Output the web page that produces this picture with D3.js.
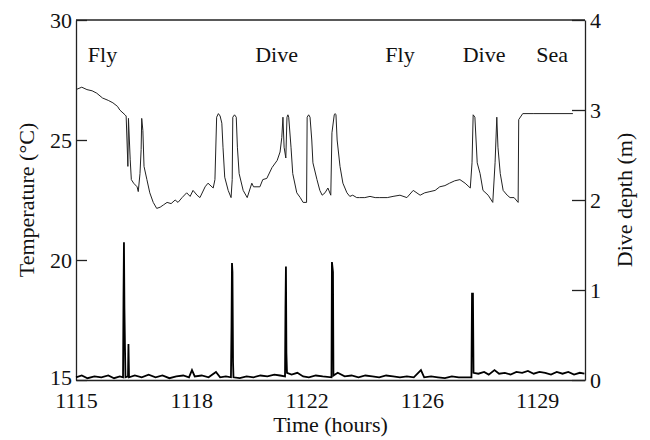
<!DOCTYPE html>
<html>
<head>
<meta charset="utf-8">
<script src="https://cdn.jsdelivr.net/npm/d3@7"></script>
<style>
  body { margin: 0; background: #fff; }
  svg text { font-family: "Liberation Serif", "Times New Roman", serif; fill: #111; }
</style>
</head>
<body>
<svg id="chart" width="650" height="440"></svg>
<script>
// x values are in tenths of a tick interval (tick labels are clock times)
var tickLabels = ["1115", "1118", "1122", "1126", "1129"];
var tickPos = [0, 10, 20, 30, 40];

var phases = ["Fly", "Dive", "Fly", "Dive", "Sea"];
var phasePos = [2.3, 17.4, 28.1, 35.4, 41.3];

// temperature trace (degrees C)
var tempT = [0, 0.5, 0.95, 1.4, 1.8, 2.3, 2.8, 3.2, 3.6, 3.8, 4.25, 4.35, 4.5, 4.55, 4.7, 4.8, 5.0, 5.3, 5.4, 5.55,
    5.65, 5.7, 5.8, 5.9, 6.15, 6.4, 6.7, 7.0, 7.3, 7.6, 7.9, 8.25, 8.6, 8.85, 9.2, 9.6, 9.9, 10.15, 10.5, 10.75,
    11.2, 11.45, 11.9, 12.05, 12.2, 12.35, 12.5, 12.65, 12.75, 12.9, 13.2, 13.45, 13.55, 13.6, 13.75, 13.9, 14.0, 14.15, 14.5, 14.85,
    15.25, 15.4, 15.7, 15.95, 16.2, 16.55, 17.0, 17.45, 17.7, 17.85, 17.95, 18.05, 18.2, 18.3, 18.38, 18.45, 18.65, 18.8,
    19.15, 19.45, 19.7, 20.0, 20.05, 20.18, 20.3, 20.45, 20.55, 20.9, 21.15, 21.35, 21.6, 21.85, 22.1, 22.2, 22.4, 22.48, 22.55,
    22.65, 22.9, 23.15, 23.5, 23.75, 24.0, 24.35, 24.6, 25.05, 25.5, 25.95, 26.35, 27.0, 27.5, 28.1, 28.7, 29.25,
    29.85, 30.25, 30.7, 31.15, 31.55, 32.0, 32.4, 32.85, 33.3, 33.75, 34.2, 34.35, 34.45, 34.6, 34.8, 35.05, 35.3,
    35.75, 36.15, 36.35, 36.5, 36.6, 36.8, 37.05, 37.4, 37.65, 38.0, 38.35, 38.4, 38.75, 39.65, 43.1];
var tempV = [27.1, 27.2, 27.1, 27.05, 26.95, 26.75, 26.65, 26.55, 26.4, 26.25, 26.05, 26.0, 23.9, 25.9, 24.2, 23.35, 23.2, 23.05, 22.85, 23.6,
    24.6, 25.9, 25.4, 23.9, 23.35, 22.8, 22.4, 22.15, 22.2, 22.3, 22.4, 22.35, 22.5, 22.4, 22.6, 22.8, 22.65, 22.9, 22.7, 22.6,
    23.05, 23.2, 23.0, 23.35, 25.95, 26.1, 26.0, 25.7, 24.7, 23.45, 22.9, 22.6, 23.35, 25.95, 26.05, 25.95, 24.7, 23.6, 22.9, 22.6,
    23.2, 23.05, 23.05, 23.05, 23.35, 23.4, 23.85, 24.15, 24.5, 25.1, 25.95, 24.7, 24.25, 25.95, 26.05, 25.95, 24.7, 23.6,
    22.8, 22.6, 22.4, 22.4, 25.95, 26.05, 25.95, 25.0, 24.05, 23.35, 22.9, 22.7, 22.8, 23.0, 22.7, 25.3, 26.05, 26.1, 26.05,
    25.0, 23.9, 23.2, 22.8, 22.65, 22.7, 22.6, 22.6, 22.6, 22.65, 22.6, 22.6, 22.6, 22.65, 22.7, 22.6, 22.9,
    22.7, 22.8, 22.85, 22.9, 23.05, 23.1, 23.2, 23.3, 23.35, 23.2, 23.0, 24.05, 26.05, 25.95, 24.05, 23.6, 22.9,
    22.7, 22.4, 24.05, 25.95, 24.7, 23.6, 22.9, 22.7, 22.6, 22.6, 22.4, 25.85, 26.1, 26.1, 26.1];

// dive depth trace (m)
var depthT = [0, 0.5, 1, 1.6, 2.2, 2.8, 3.3, 3.8, 4.08, 4.12, 4.16, 4.2, 4.25, 4.29, 4.51, 4.55, 4.6, 5.1, 5.7, 6.3,
    6.9, 7.5, 8.1, 8.7, 9.3, 9.8, 10.06, 10.3, 10.9, 11.5, 12.14, 12.5, 13.0, 13.44, 13.49, 13.53, 13.57, 13.62, 13.66,
    14.2, 14.8, 15.4, 16.0, 16.6, 17.2, 17.7, 18.13, 18.17, 18.21, 18.25, 18.3, 18.7, 19.2, 19.7, 20.2, 20.8, 21.4,
    22.16, 22.2, 22.29, 22.33, 22.7, 23.3, 23.9, 24.5, 25.1, 25.7, 26.3, 26.9, 27.5, 28.1, 28.7, 29.3, 29.92, 30.2,
    30.8, 31.4, 32.0, 32.6, 33.2, 33.8, 34.3, 34.35, 34.43, 34.48, 34.9, 35.4, 35.8, 36.3, 36.7, 37.2, 37.7, 38.2,
    38.7, 39.2, 39.7, 40.2, 40.7, 41.2, 41.7, 42.2, 42.7, 43.2, 43.7, 44.1];
var depthV = [0.03, 0.05, 0.02, 0.04, 0.03, 0.05, 0.02, 0.04, 0.03, 0.9, 1.53, 0.8, 0.35, 0.03, 0.04, 0.4, 0.03, 0.05, 0.03, 0.06,
    0.03, 0.05, 0.02, 0.04, 0.05, 0.03, 0.11, 0.04, 0.05, 0.03, 0.09, 0.03, 0.04, 0.03, 0.6, 1.3, 1.2, 0.2, 0.03,
    0.02, 0.04, 0.03, 0.05, 0.04, 0.06, 0.05, 0.04, 0.8, 1.26, 0.3, 0.08, 0.06, 0.08, 0.04, 0.03, 0.05, 0.04,
    0.03, 1.31, 1.2, 0.05, 0.08, 0.04, 0.05, 0.03, 0.05, 0.04, 0.03, 0.05, 0.04, 0.03, 0.04, 0.03, 0.11, 0.03,
    0.04, 0.03, 0.02, 0.04, 0.03, 0.03, 0.03, 0.96, 0.96, 0.08, 0.07, 0.09, 0.06, 0.11, 0.07, 0.08, 0.06, 0.09,
    0.08, 0.10, 0.07, 0.09, 0.08, 0.06, 0.09, 0.07, 0.09, 0.06, 0.08, 0.07];

var svg = d3.select("#chart");
var plotL = 76, plotR = 585, plotT = 20, plotB = 380;

var x = d3.scaleLinear().domain([0, 44.15]).range([plotL, plotR]);
var yT = d3.scaleLinear().domain([15, 30]).range([plotB, plotT]);
var yD = d3.scaleLinear().domain([0, 4]).range([plotB, plotT]);

var axisStyle = function(g) {
    g.select(".domain").attr("stroke", "#222").attr("stroke-width", 1.3);
    g.selectAll(".tick line").attr("stroke", "#222").attr("stroke-width", 1.3);
    g.selectAll(".tick text").attr("font-size", 22).attr("font-family", null).attr("fill", "#111");
};

svg.append("g")
    .attr("transform", "translate(" + plotL + ",0)")
    .call(d3.axisLeft(yT).tickValues([15, 20, 25, 30]).tickSize(-11).tickSizeOuter(0).tickPadding(4))
    .call(axisStyle)
    .selectAll(".tick text")
    .filter(function(d) { return d === 15; })
    .attr("dy", "0.2em");

svg.append("g")
    .attr("transform", "translate(" + plotR + ",0)")
    .call(d3.axisRight(yD).tickValues([0, 1, 2, 3, 4]).tickSize(-13).tickSizeOuter(0).tickPadding(5)
          .tickFormat(d3.format("d")))
    .call(axisStyle);

svg.append("g")
    .attr("transform", "translate(0," + plotB + ")")
    .call(d3.axisBottom(x).tickValues(tickPos).tickSize(0).tickPadding(12)
          .tickFormat(function(d, i) { return tickLabels[i]; }))
    .call(axisStyle);

svg.append("line")
    .attr("x1", plotL).attr("x2", plotR)
    .attr("y1", plotT).attr("y2", plotT)
    .attr("stroke", "#222").attr("stroke-width", 1.3);

// depth trace
svg.append("path")
    .datum(d3.range(depthT.length))
    .attr("fill", "none")
    .attr("stroke", "#000")
    .attr("stroke-width", 1.8)
    .attr("d", d3.line()
          .x(function(i) { return x(depthT[i]); })
          .y(function(i) { return yD(depthV[i]); }));

// temperature trace
svg.append("path")
    .datum(d3.range(tempT.length))
    .attr("fill", "none")
    .attr("stroke", "#222")
    .attr("stroke-width", 1)
    .attr("d", d3.line()
          .x(function(i) { return x(tempT[i]); })
          .y(function(i) { return yT(tempV[i]); }));

svg.selectAll(".phase")
    .data(phases)
    .enter().append("text")
    .attr("class", "phase")
    .attr("x", function(d, i) { return x(phasePos[i]); })
    .attr("y", 62)
    .attr("text-anchor", "middle")
    .attr("font-size", 22)
    .text(function(d) { return d; });

svg.append("text")
    .attr("x", (plotL + plotR) / 2)
    .attr("y", 432)
    .attr("text-anchor", "middle")
    .attr("font-size", 22)
    .text("Time (hours)");

svg.append("text")
    .attr("transform", "translate(34," + (plotT + plotB) / 2 + ") rotate(-90)")
    .attr("text-anchor", "middle")
    .attr("font-size", 22)
    .text("Temperature (°C)");

svg.append("text")
    .attr("transform", "translate(632," + (plotT + plotB) / 2 + ") rotate(-90)")
    .attr("text-anchor", "middle")
    .attr("font-size", 22)
    .text("Dive depth (m)");
</script>
</body>
</html>
